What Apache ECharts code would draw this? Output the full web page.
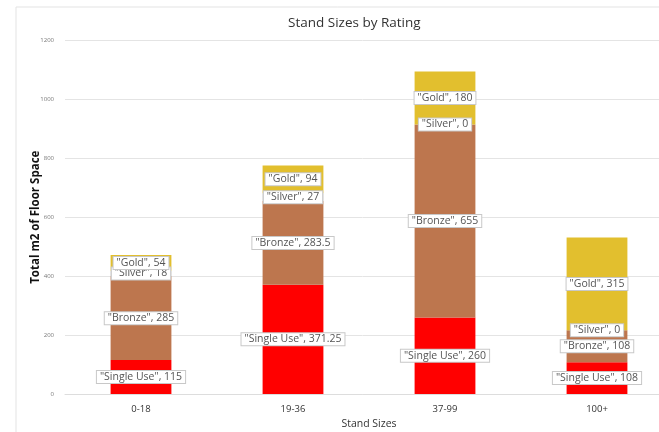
<!DOCTYPE html>
<html><head><meta charset="utf-8">
<script src="https://cdn.jsdelivr.net/npm/echarts@6/dist/echarts.min.js"></script>
<style>html,body{margin:0;padding:0;background:#fff}#c{width:659px;height:432px}</style>
</head><body><div id="c"></div>
<script>
const categories = ['0-18', '19-36', '37-99', '100+'];
const singleUse = [115, 371.25, 260, 108];
const bronze = [285, 283.5, 655, 108];
const silver = [18, 27, 0, 0];
const gold = [54, 94, 180, 315];
const yTicks = [0, 200, 400, 600, 800, 1000, 1200];

const chart = echarts.init(document.getElementById('c'));
const font = '"Open Sans", "Noto Sans", sans-serif';
function mk(name, data, color) {
  return {
    name, type: 'bar', stack: 'total', data, barWidth: '40%',
    itemStyle: { color },
    label: {
      show: true, position: 'inside',
      formatter: p => '"' + p.seriesName + '", ' + p.value,
      color: '#555', fontSize: 10.5, fontFamily: font,
      backgroundColor: '#fff', borderColor: '#c8c8c8', borderWidth: 1,
      padding: [1, 3, 0, 3]
    }
  };
}
chart.setOption({
  animation: false,
  textStyle: { fontFamily: font },
  title: { text: 'Stand Sizes by Rating', left: 283, top: 11,
    textStyle: { fontSize: 13.5, fontWeight: 'normal', color: '#333', fontFamily: font } },
  graphic: [
    { type: 'line', shape: { x1: 16, y1: 7, x2: 659, y2: 7 }, style: { stroke: '#e3e3e3', lineWidth: 1 } },
    { type: 'line', shape: { x1: 16, y1: 7, x2: 16, y2: 432 }, style: { stroke: '#e3e3e3', lineWidth: 1 } }
  ],
  grid: { left: 65, right: -14, top: 40.5, bottom: 38, outerBoundsMode: 'none', containLabel: false },
  xAxis: {
    type: 'category', data: categories,
    name: 'Stand Sizes', nameLocation: 'middle', nameGap: 25, nameMoveOverlap: false,
    nameTextStyle: { fontSize: 10.5, color: '#333', fontFamily: font },
    axisLine: { lineStyle: { color: '#ddd' } }, axisTick: { show: false },
    axisLabel: { fontSize: 9.5, color: '#333', margin: 10 }
  },
  yAxis: {
    type: 'value', min: 0, max: 1200, interval: 200,
    name: 'Total m2 of Floor Space', nameLocation: 'middle', nameGap: 23, nameMoveOverlap: false,
    nameTextStyle: { fontSize: 11.5, fontWeight: 'bold', color: '#111', fontFamily: font },
    axisLabel: { fontSize: 6, color: '#777', margin: 11, formatter: v => yTicks.includes(v) ? String(v) : '' },
    splitLine: { lineStyle: { color: '#e4e4e4' } },
    axisLine: { show: false }, axisTick: { show: false }
  },
  series: [
    mk('Single Use', singleUse, '#ff0000'),
    mk('Bronze', bronze, '#bd764e'),
    mk('Silver', silver, '#c0c0c0'),
    mk('Gold', gold, '#e2bf2e')
  ]
});
</script></body></html>
